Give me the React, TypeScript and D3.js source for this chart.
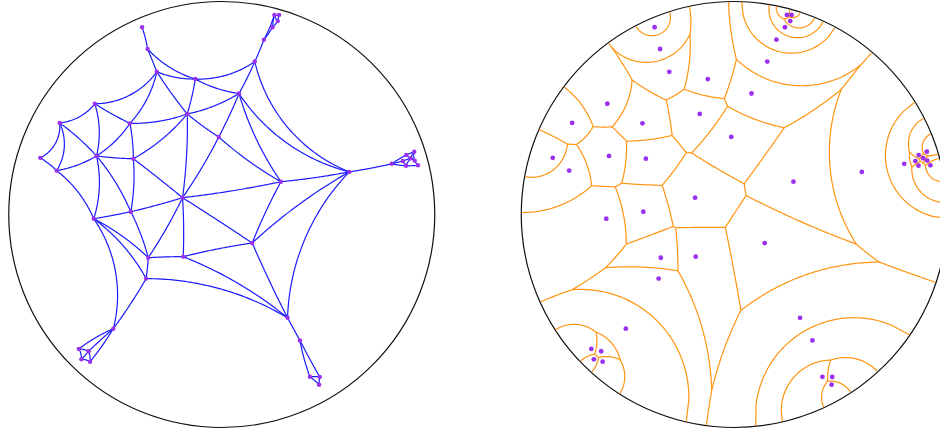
import React, { useMemo } from "react";
import * as d3 from "d3";

// Node positions in the unit (Poincaré) disk
const nodeX = [
  -0.374, -0.348, -0.305, -0.124, -0.596, -0.162, -0.761, -0.431, -0.014, -0.852,
  -0.588, -0.415, -0.775, -0.184, -0.427, -0.601, -0.345, -0.181, -0.355, -0.509,
  -0.671, -0.625, -0.659, -0.618, 0.155, 0.198, 0.238, 0.247, 0.269, 0.263,
  0.081, 0.599, 0.278, 0.798, 0.904, 0.866, 0.887, 0.85, 0.906, 0.865,
  0.921, 0.143, 0.309, 0.367, 0.414, 0.46, 0.457,
];
const nodeY = [
  -0.879, -0.777, -0.67, -0.636, -0.52, -0.472, -0.43, -0.428, -0.364, -0.266,
  -0.275, -0.262, -0.206, -0.079, -0.013, 0.02, 0.203, 0.198, 0.301, 0.536,
  0.631, 0.642, 0.68, 0.691, -0.718, -0.821, -0.879, -0.937, -0.937, -0.908,
  -0.568, -0.2, -0.154, -0.238, -0.295, -0.279, -0.264, -0.251, -0.253, -0.229,
  -0.231, 0.134, 0.485, 0.591, 0.762, 0.763, 0.799,
];

// Graph links (node index pairs)
const edgeSource = [
  0, 1, 1, 2, 3, 2, 2, 2, 3, 3, 24, 5, 5, 5, 5, 5, 8, 8, 8, 30, 24, 30, 32, 32, 32, 31, 31, 41, 41, 41,
  17, 18, 17, 17, 16, 16, 16, 16, 18, 15, 18, 15, 14, 14, 14, 10, 12, 10, 11, 7, 7, 4, 4, 4, 6, 9, 6, 6, 12,
  24, 25, 25, 26, 26, 27, 28, 27,
  31, 33, 33, 33, 35, 34, 35, 36, 37, 36, 34, 38, 39, 36,
  19, 19, 19, 20, 20, 22, 21, 21,
  42, 43, 43, 44, 45, 44,
];
const edgeTarget = [
  1, 2, 3, 3, 24, 4, 5, 7, 5, 30, 30, 30, 7, 8, 11, 13, 30, 13, 32, 32, 31, 31, 31, 13, 41, 41, 42, 42, 13, 17,
  42, 42, 13, 16, 13, 14, 18, 15, 15, 19, 19, 14, 13, 11, 10, 15, 15, 11, 13, 11, 10, 7, 10, 6, 9, 12, 12, 10, 10,
  25, 26, 27, 27, 29, 28, 29, 29,
  33, 35, 37, 39, 34, 36, 36, 37, 39, 38, 38, 40, 40, 39,
  20, 21, 23, 21, 22, 23, 23, 22,
  43, 44, 45, 45, 46, 46,
];

const WIDTH = 940;
const HEIGHT = 431;
const RADIUS = 213;
const LEFT_CX = 221.75;
const RIGHT_CX = 734.25;
const CY = 214.5;

type Pt = [number, number];

const toKlein = ([x, y]: Pt): Pt => {
  const s = 2 / (1 + x * x + y * y);
  return [x * s, y * s];
};
const toPoincare = ([x, y]: Pt): Pt => {
  const r2 = x * x + y * y;
  const s = 1 / (1 + Math.sqrt(Math.max(0, 1 - r2)));
  return [x * s, y * s];
};

function kleinSegment(a: Pt, b: Pt, n = 64): Pt[] {
  const out: Pt[] = [];
  for (let i = 0; i <= n; i++) {
    const t = i / n;
    out.push(toPoincare([a[0] + (b[0] - a[0]) * t, a[1] + (b[1] - a[1]) * t]));
  }
  return out;
}

function hyperbolicVoronoi(sites: Pt[]): [Pt, Pt][] {
  const K = sites.map(toKlein);
  const S = K.map((k) => Math.sqrt(1 - k[0] * k[0] - k[1] * k[1]));
  const NB = 720;
  const segs: [Pt, Pt][] = [];
  K.forEach((a, i) => {
    let poly: Pt[] = d3.range(NB).map((k) => [Math.cos((2 * Math.PI * k) / NB), Math.sin((2 * Math.PI * k) / NB)] as Pt);
    let lab: number[] = poly.map(() => -1);
    for (let j = 0; j < K.length; j++) {
      if (j === i || poly.length === 0) continue;
      const b = K[j];
      const nx = b[0] / S[j] - a[0] / S[i];
      const ny = b[1] / S[j] - a[1] / S[i];
      const c = 1 / S[j] - 1 / S[i];
      const f = (p: Pt) => nx * p[0] + ny * p[1] - c;
      const out: Pt[] = [];
      const outLab: number[] = [];
      const n = poly.length;
      for (let k = 0; k < n; k++) {
        const P = poly[k];
        const Q = poly[(k + 1) % n];
        const L = lab[k];
        const fp = f(P);
        const fq = f(Q);
        const pin = fp <= 0;
        const qin = fq <= 0;
        if (pin) {
          out.push(P);
          outLab.push(L);
        }
        if (pin !== qin) {
          const t = fp / (fp - fq);
          const I: Pt = [P[0] + (Q[0] - P[0]) * t, P[1] + (Q[1] - P[1]) * t];
          out.push(I);
          outLab.push(pin ? j : L);
        }
      }
      poly = out;
      lab = outLab;
    }
    const n = poly.length;
    for (let k = 0; k < n; k++) {
      if (lab[k] > i) segs.push([poly[k], poly[(k + 1) % n]]);
    }
  });
  return segs;
}

export default function App() {
  const nodes: Pt[] = nodeX.map((x, i) => [x, nodeY[i]] as Pt);

  const xl = d3.scaleLinear().domain([-1, 1]).range([LEFT_CX - RADIUS, LEFT_CX + RADIUS]);
  const xr = d3.scaleLinear().domain([-1, 1]).range([RIGHT_CX - RADIUS, RIGHT_CX + RADIUS]);
  const y = d3.scaleLinear().domain([-1, 1]).range([CY - RADIUS, CY + RADIUS]);

  const lineL = d3.line<Pt>().x((d) => xl(d[0])).y((d) => y(d[1]));
  const lineR = d3.line<Pt>().x((d) => xr(d[0])).y((d) => y(d[1]));

  const linkPaths = useMemo(
    () =>
      edgeSource.map((s, i) => {
        const t = edgeTarget[i];
        return lineL(kleinSegment(toKlein(nodes[s]), toKlein(nodes[t])));
      }),
    []
  );

  const voronoiPaths = useMemo(
    () => hyperbolicVoronoi(nodes).map(([a, b]) => lineR(kleinSegment(a, b))),
    []
  );

  return (
    <svg
      width={WIDTH}
      height={HEIGHT}
      style={{ position: "absolute", left: 0, top: 0, display: "block" }}
    >
      <rect width={WIDTH} height={HEIGHT} fill="white" />
      {/* Left disk: graph with geodesic links */}
      <circle cx={xl(0)} cy={y(0)} r={xl(1) - xl(0)} fill="none" stroke="#111" strokeWidth={1.2} />
      <g fill="none" stroke="#1a1aff" strokeWidth={1.2}>
        {linkPaths.map((d, i) => (
          <path key={i} d={d || ""} />
        ))}
      </g>
      <g fill="#9b30f0">
        {nodes.map((p, i) => (
          <circle key={i} cx={xl(p[0])} cy={y(p[1])} r={2.2} />
        ))}
      </g>
      {/* Right disk: hyperbolic Voronoi diagram */}
      <circle cx={xr(0)} cy={y(0)} r={xr(1) - xr(0)} fill="none" stroke="#111" strokeWidth={1.2} />
      <g fill="none" stroke="#ff9410" strokeWidth={1.2}>
        {voronoiPaths.map((d, i) => (
          <path key={i} d={d || ""} />
        ))}
      </g>
      <g fill="#9b30f0">
        {nodes.map((p, i) => (
          <circle key={i} cx={xr(p[0])} cy={y(p[1])} r={2.4} />
        ))}
      </g>
    </svg>
  );
}
